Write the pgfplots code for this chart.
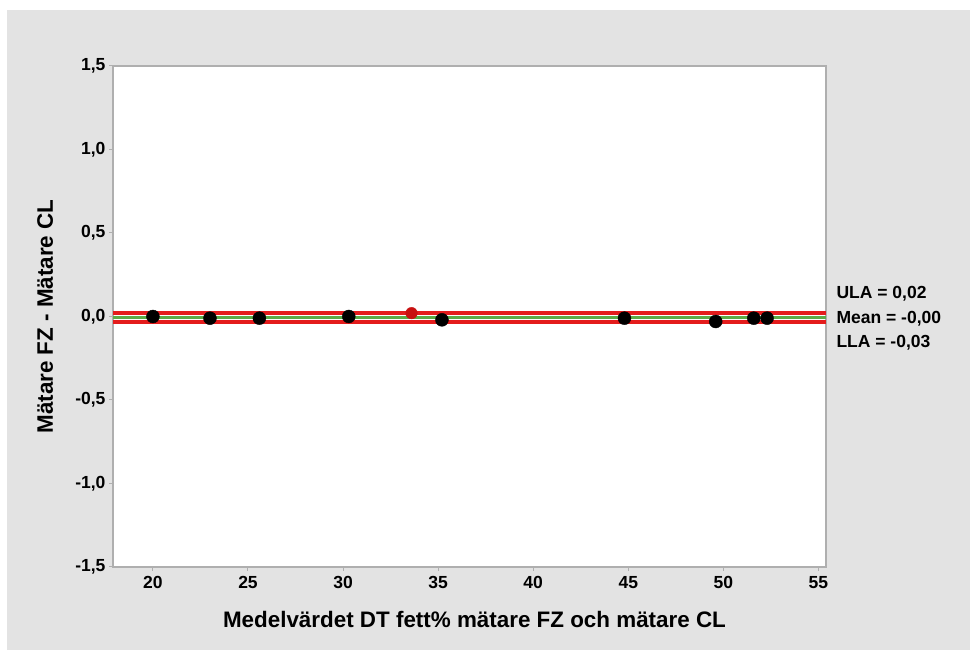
\documentclass[border=0pt]{standalone}
\usepackage{pgfplots}
\pgfplotsset{compat=1.18}
\usepackage{fontspec}
\setmainfont{Liberation Sans}

\definecolor{panelgray}{RGB}{227,227,227}
\definecolor{framegray}{RGB}{175,175,175}
\definecolor{limred}{RGB}{228,28,28}
\definecolor{meangreen}{RGB}{92,172,72}
\definecolor{ptred}{RGB}{200,16,16}

\begin{document}
\begin{tikzpicture}[x=1bp,y=1bp]
  % page and grey panel
  \fill[white] (0,0) rectangle (970,650);
  \fill[panelgray] (7,0) rectangle (970,640);
  \begin{axis}[
    at={(113bp,83bp)}, anchor=south west,
    scale only axis, width=713bp, height=501bp,
    xmin=17.9, xmax=55.4, ymin=-1.5, ymax=1.5,
    axis background/.style={fill=white},
    axis line style={framegray, line width=1.2bp},
    xtick={20,25,...,55},
    ytick={-1.5,-1,...,1.5},
    xtick pos=bottom, ytick pos=left,
    tick align=outside, major tick length=4bp,
    tick style={framegray, line width=1bp},
    /pgf/number format/assume math mode=true,
    tick label style={font=\fontsize{17.5bp}{19bp}\selectfont\bfseries},
    xticklabel style={yshift=-2bp},
    yticklabel style={xshift=0bp, /pgf/number format/.cd, fixed, fixed zerofill, precision=1, use comma},
    xlabel={Medelvärdet DT fett\% mätare FZ och mätare CL},
    ylabel={Mätare FZ - Mätare CL},
    label style={font=\fontsize{22.4bp}{25bp}\selectfont\bfseries},
    xlabel style={at={(axis description cs:0.507,-0.104)}, anchor=center},
    ylabel style={at={(axis description cs:-0.095,0.5)}, anchor=center},
    clip=false,
  ]
    % limits of agreement and mean difference
    \addplot[limred, line width=4bp, forget plot] coordinates {(17.9,0.018) (55.4,0.018)};
    \addplot[limred, line width=4bp, forget plot] coordinates {(17.9,-0.03) (55.4,-0.03)};
    \addplot[meangreen, line width=3.5bp, forget plot] coordinates {(17.9,-0.006) (55.4,-0.006)};
    % measurement differences
    \addplot[only marks, mark=*, mark size=6.5bp, black] coordinates {
      (20.0,0.00) (23.0,-0.01) (25.6,-0.01) (30.3,0.00) (35.2,-0.02)
      (44.8,-0.01) (49.6,-0.03) (51.6,-0.01) (52.3,-0.01)
    };
    \addplot[only marks, mark=*, mark size=5.8bp, ptred] coordinates {(33.6,0.02)};
    % limit annotations
    \begin{scope}[font=\fontsize{17.5bp}{19bp}\selectfont\bfseries]
      \node[anchor=west] at ([xshift=7bp]rel axis cs:1,0.5459) {ULA = 0,02};
      \node[anchor=west] at ([xshift=7bp]rel axis cs:1,0.4960) {Mean = -0,00};
      \node[anchor=west] at ([xshift=7bp]rel axis cs:1,0.4481) {LLA = -0,03};
    \end{scope}
  \end{axis}
\end{tikzpicture}
\end{document}
